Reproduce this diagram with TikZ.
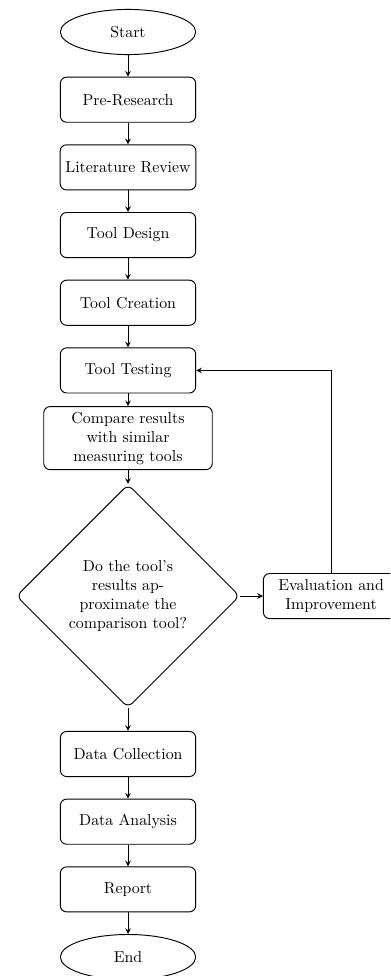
\documentclass[tikz,border=0pt]{standalone}
\usepackage{amsmath}
\usepackage{tikz}
\usetikzlibrary{arrows.meta,shapes.geometric}

\begin{document}
\begin{tikzpicture}[node distance=1.5cm,
		startstop/.style={ellipse,semithick,draw,minimum width=3cm,minimum height=1cm,align=center},
		process/.style={rectangle,semithick,rounded corners,draw,minimum width=3cm,minimum height=1cm,align=center},
		decision/.style={diamond,semithick,rounded corners,draw,aspect=1,minimum width=4.95cm,minimum height=4.95cm,align=center},
		arrow/.style={semithick,->,>=stealth}]
			\clip (-2.837,0.709) rectangle (5.807,-20.92);
			\node[startstop] (start) {Start};
			\node[process, below of=start] (pre) {Pre-Research};
			\node[process, below of=pre] (lit) {Literature Review};
			\node[process, below of=lit] (design) {Tool Design};
			\node[process, below of=design] (create) {Tool Creation};
			\node[process, below of=create] (test) {Tool Testing};
			\node[process, below of=test, text width=3.5cm] (comp) {Compare results\\ with similar\\ measuring tools};
			\node[decision, below of=comp, yshift=-2cm] (dec) {Do the tool's\\ results ap-\\ proximate the\\ comparison tool?};
			\node[process, right of=dec, xshift=3cm] (eval) {Evaluation and\\ Improvement};
			\node[process, below of=dec, yshift=-2cm] (collect) {Data Collection};
			\node[process, below of=collect] (analysis) {Data Analysis};
			\node[process, below of=analysis] (report) {Report};
			\node[startstop, below of=report] (stop) {End};
			
			\draw[arrow] (start) -- (pre);
			\draw[arrow] (pre) -- (lit);
			\draw[arrow] (lit) -- (design);
			\draw[arrow] (design) -- (create);
			\draw[arrow] (create) -- (test);
			\draw[arrow] (test) -- (comp);
			\draw[arrow] (comp) -- (dec);
			\draw[arrow] (dec) -- (eval);
			\draw[arrow] (eval) |- (test);
			\draw[arrow] (dec) -- (collect);
			\draw[arrow] (collect) -- (analysis);
			\draw[arrow] (analysis) -- (report);
			\draw[arrow] (report) -- (stop);
		\end{tikzpicture}
\end{document}
